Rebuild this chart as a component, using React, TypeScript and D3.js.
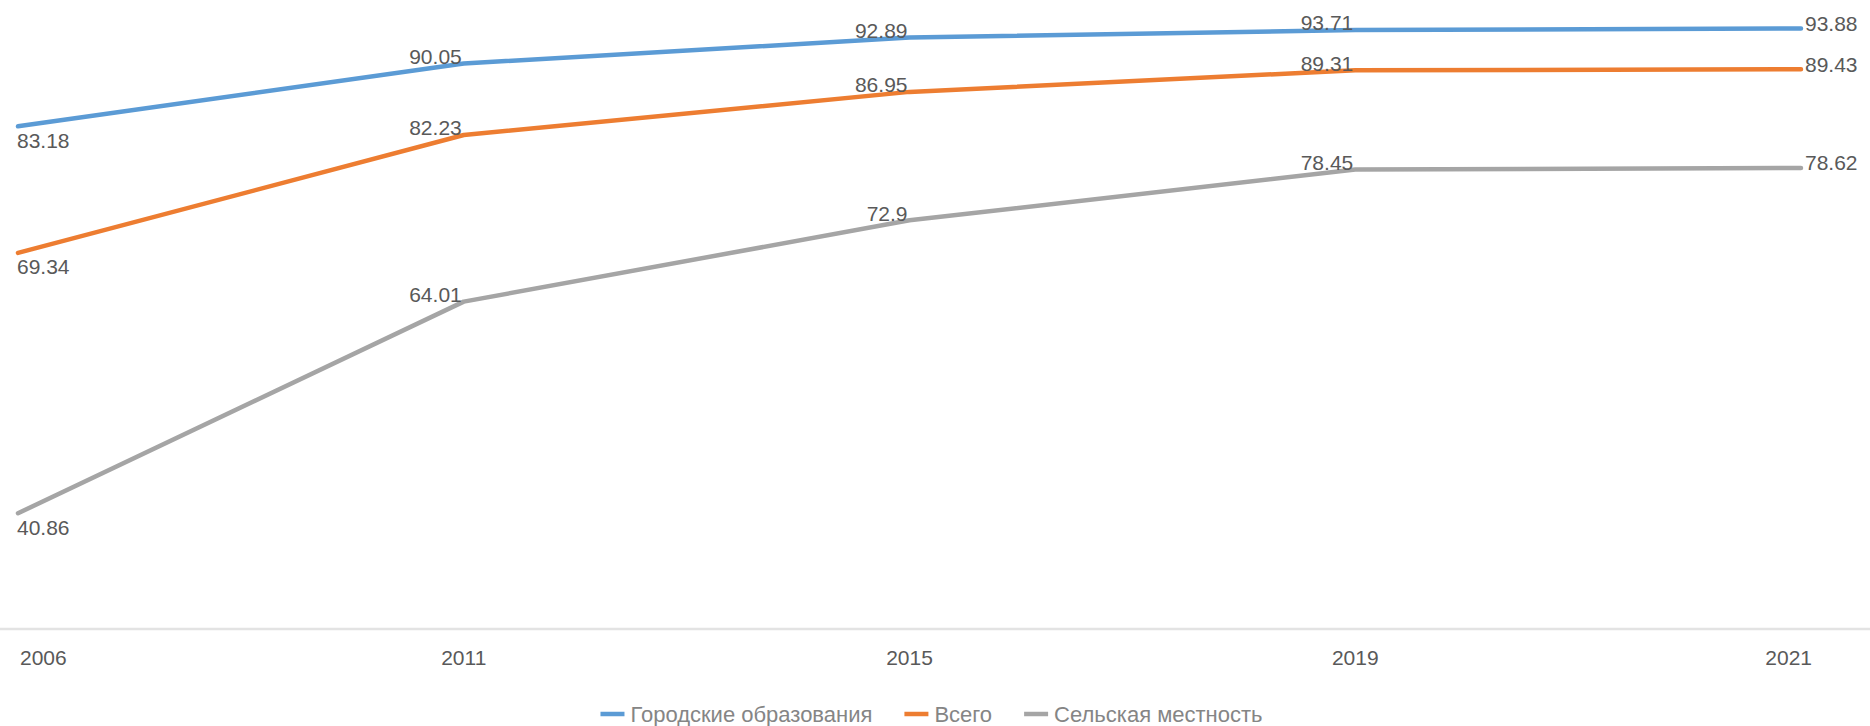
import React, { useEffect, useRef } from "react";
import * as d3 from "d3";

const categories = ["2006", "2011", "2015", "2019", "2021"];
const seriesNames = ["Городские образования", "Всего", "Сельская местность"];
const urbanValues = [83.18, 90.05, 92.89, 93.71, 93.88];
const totalValues = [69.34, 82.23, 86.95, 89.31, 89.43];
const ruralValues = [40.86, 64.01, 72.9, 78.45, 78.62];
const valueLabels = [
  ["83.18", "90.05", "92.89", "93.71", "93.88"],
  ["69.34", "82.23", "86.95", "89.31", "89.43"],
  ["40.86", "64.01", "72.9", "78.45", "78.62"],
];

const W = 1870;
const H = 726;
const COLORS = ["#5b9bd5", "#ed7d31", "#a5a5a5"];
const FONT = "'Liberation Sans', Arial, sans-serif";

export default function App() {
  const ref = useRef<SVGSVGElement | null>(null);

  useEffect(() => {
    const svg = d3.select(ref.current);
    svg.selectAll("*").remove();

    const axisY = 629;
    const x = d3.scalePoint<string>().domain(categories).range([18, 1801]);
    const y = d3.scaleLinear().domain([28.2, 97]).range([axisY, 0]);

    const series = [urbanValues, totalValues, ruralValues];

    // axis line
    svg
      .append("line")
      .attr("x1", 0)
      .attr("x2", W)
      .attr("y1", axisY)
      .attr("y2", axisY)
      .attr("stroke", "#e3e3e3")
      .attr("stroke-width", 2.5);

    // category labels
    const last = categories.length - 1;
    svg
      .append("g")
      .selectAll("text")
      .data(categories)
      .join("text")
      .attr("x", (d, i) => (x(d) as number) + (i === 0 ? 2 : i === last ? 11 : 0))
      .attr("y", 658)
      .attr("dy", "0.35em")
      .attr("text-anchor", (d, i) => (i === 0 ? "start" : i === last ? "end" : "middle"))
      .attr("font-family", FONT)
      .attr("font-size", 21)
      .attr("fill", "#595959")
      .text((d) => d);

    const line = d3
      .line<number>()
      .x((d, i) => x(categories[i]) as number)
      .y((d) => y(d));

    series.forEach((vals, si) => {
      svg
        .append("path")
        .datum(vals)
        .attr("d", line)
        .attr("fill", "none")
        .attr("stroke", COLORS[si])
        .attr("stroke-width", 4.5)
        .attr("stroke-linejoin", "round")
        .attr("stroke-linecap", "round");
    });

    series.forEach((vals, si) => {
      svg
        .append("g")
        .selectAll("text")
        .data(vals)
        .join("text")
        .attr("x", (d, i) => {
          const px = x(categories[i]) as number;
          if (i === 0) return px - 1;
          if (i === last) return px + 4;
          return px - 2;
        })
        .attr("y", (d, i) => {
          const py = y(d);
          if (i === 0) return py + 14;
          if (i === last) return py - 5;
          return py - 7;
        })
        .attr("dy", "0.35em")
        .attr("text-anchor", (d, i) => (i === 0 || i === last ? "start" : "end"))
        .attr("font-family", FONT)
        .attr("font-size", 21)
        .attr("fill", "#595959")
        .text((d, i) => valueLabels[si][i]);
    });

    // legend
    const legend = svg.append("g");
    const items = legend.selectAll("g").data(seriesNames).join("g");
    items
      .append("text")
      .attr("font-family", FONT)
      .attr("font-size", 22)
      .attr("fill", "#858585")
      .attr("dy", "0.35em")
      .text((d) => d);
    const swatch = 24;
    const gapText = 6;
    const gapItem = 32;
    const widths: number[] = [];
    items.each(function () {
      const t = d3.select(this).select("text").node() as SVGTextElement;
      widths.push(t.getComputedTextLength());
    });
    const total =
      widths.reduce((a, b) => a + b, 0) +
      seriesNames.length * (swatch + gapText) +
      (seriesNames.length - 1) * gapItem;
    let cx = 931.5 - total / 2;
    const legendY = 714;
    items.each(function (d, i) {
      const g = d3.select(this);
      g.attr("transform", `translate(${cx},${legendY})`);
      g.insert("line", "text")
        .attr("x1", 0)
        .attr("x2", swatch)
        .attr("y1", 0)
        .attr("y2", 0)
        .attr("stroke", COLORS[i])
        .attr("stroke-width", 4.5);
      g.select("text").attr("x", swatch + gapText);
      cx += swatch + gapText + widths[i] + gapItem;
    });
  }, []);

  return (
    <svg
      ref={ref}
      width={W}
      height={H}
      style={{ position: "absolute", left: 0, top: 0, background: "#ffffff" }}
    />
  );
}
